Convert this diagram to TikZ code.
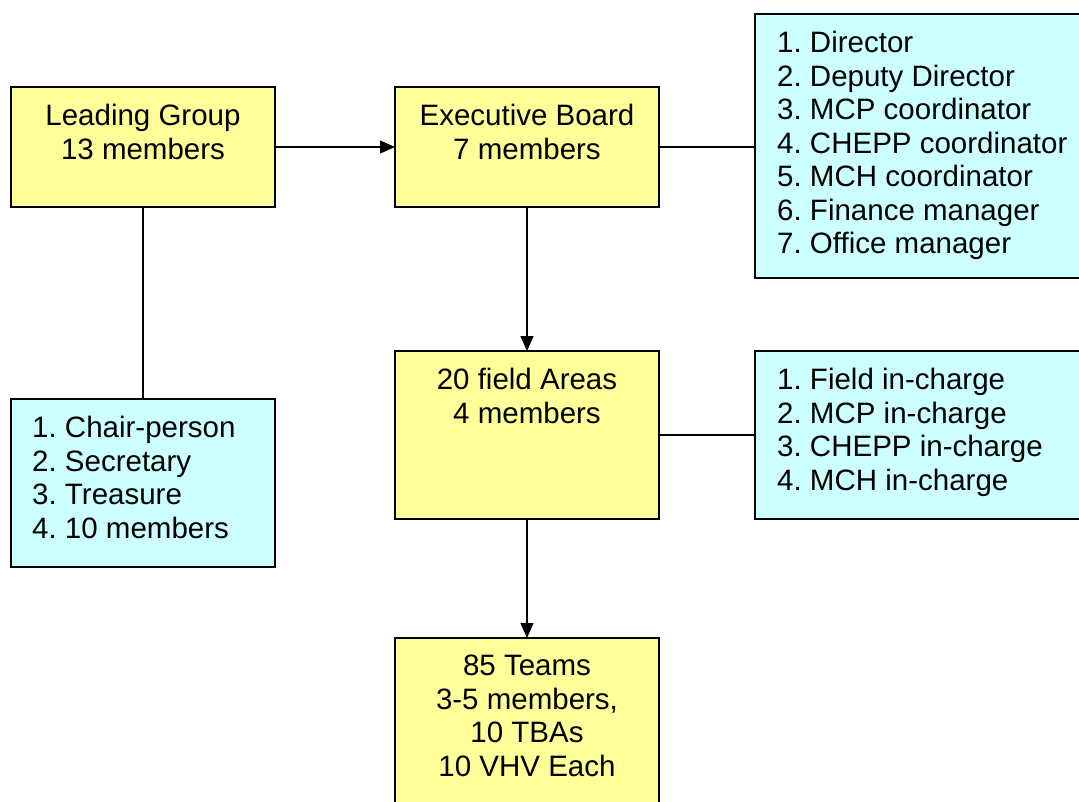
\documentclass[tikz,border=0pt]{standalone}
\usepackage{fontspec}
\setmainfont{Liberation Sans}
\usetikzlibrary{arrows.meta}
\definecolor{boxyellow}{HTML}{FFFF99}
\definecolor{boxcyan}{HTML}{CCFFFF}
\frenchspacing
\begin{document}
\begin{tikzpicture}[x=1pt,y=-1pt,
  box/.style={draw=black, line width=1.5pt, inner sep=0pt, outer sep=0pt, anchor=north west},
  ybox/.style={box, fill=boxyellow},
  cbox/.style={box, fill=boxcyan},
  txt/.style={font=\fontsize{29.5}{33.5}\selectfont, inner sep=0pt},
  ctxt/.style={txt, anchor=north, align=center},
  ltxt/.style={txt, anchor=north west, align=left},
  link/.style={draw=black, line width=1.3pt},
  arr/.style={link, -{Triangle[length=15pt,width=13pt]}}
]
\useasboundingbox (0,0) rectangle (1079,801);
\clip (0,0) rectangle (1079,801);
\fill[white] (0,0) rectangle (1079,801);

\node[ybox, minimum width=264pt, minimum height=120pt] (lg) at (11,87) {};
\node[ybox, minimum width=264pt, minimum height=120pt] (eb) at (395,87) {};
\node[cbox, minimum width=340pt, minimum height=264pt] (dir) at (755,14) {};
\node[ybox, minimum width=264pt, minimum height=168pt] (fa) at (395,351) {};
\node[cbox, minimum width=340pt, minimum height=168pt] (fin) at (755,351) {};
\node[cbox, minimum width=264pt, minimum height=168pt] (ch) at (11,399) {};
\node[ybox, minimum width=264pt, minimum height=200pt] (tm) at (395,638) {};

\node[ctxt] (lgt) at ([yshift=-17pt]lg.north) {Leading Group\\13 members};
\node[ctxt] (ebt) at ([yshift=-17pt]eb.north) {Executive Board\\7 members};
\node[ltxt] (dirt) at ([xshift=22pt,yshift=-17pt]dir.north west) {1. Director\\2. Deputy Director\\3. MCP coordinator\\4. CHEPP coordinator\\5. MCH coordinator\\6. Finance manager\\7. Office manager};
\node[ctxt] (fat) at ([yshift=-17pt]fa.north) {20 field Areas\\4 members};
\node[ltxt] (fint) at ([xshift=22pt,yshift=-17pt]fin.north west) {1. Field in-charge\\2. MCP in-charge\\3. CHEPP in-charge\\4. MCH in-charge};
\node[ltxt] (cht) at ([xshift=21pt,yshift=-17pt]ch.north west) {1. Chair-person\\2. Secretary\\3. Treasure\\4. 10 members};
\node[ctxt] (tmt) at ([yshift=-17pt]tm.north) {85 Teams\\3-5 members,\\10 TBAs\\10 VHV Each};

\draw[arr] (lg.east) -- (eb.west);
\draw[arr] (eb.south) -- (fa.north);
\draw[arr] (fa.south) -- (tm.north);
\draw[link] (lg.south) -- (ch.north);
\draw[link] (eb.east) -- (eb.east -| dir.west);
\draw[link] (fa.east) -- (fin.west);
\end{tikzpicture}
\end{document}
